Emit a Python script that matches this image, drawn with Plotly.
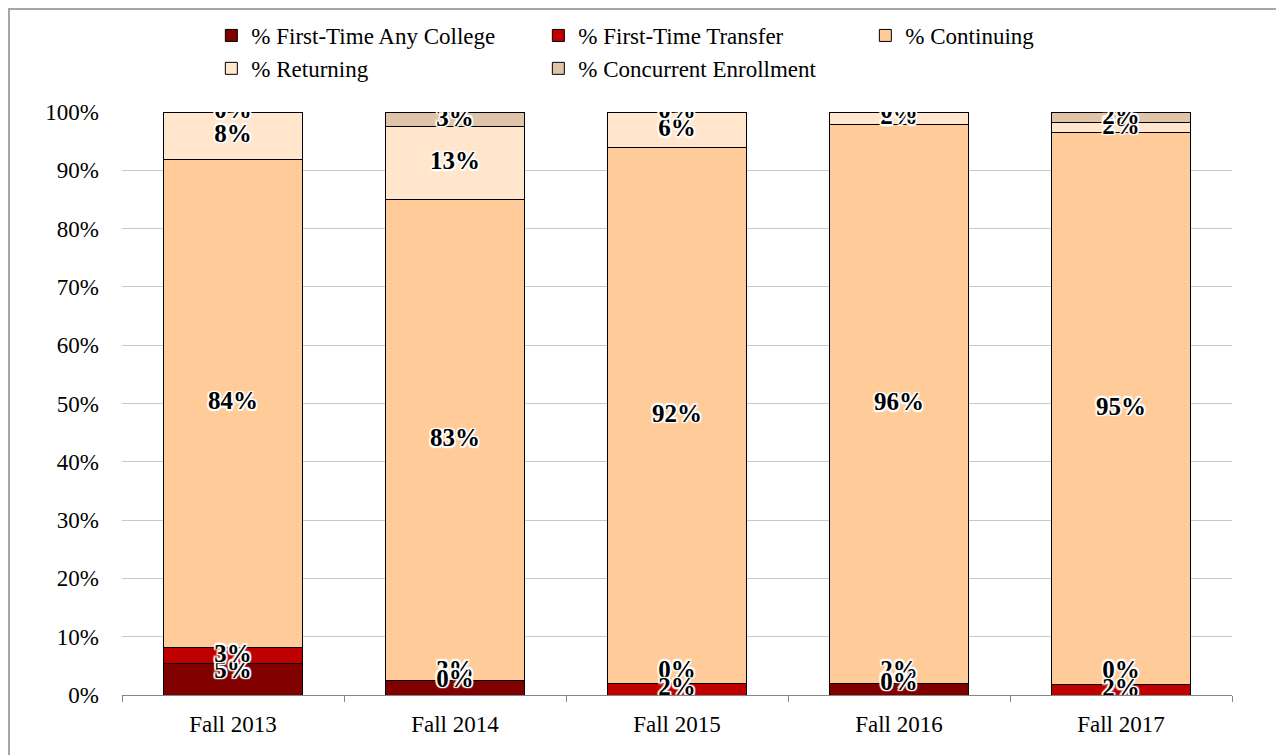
import plotly.graph_objects as go

categories = ["Fall 2013", "Fall 2014", "Fall 2015", "Fall 2016", "Fall 2017"]
series_names = ["% First-Time Any College", "% First-Time Transfer", "% Continuing",
                "% Returning", "% Concurrent Enrollment"]
first_time_any = [5.4, 2.5, 0.0, 2.0, 0.0]
first_time_transfer = [2.8, 0.0, 2.0, 0.0, 1.8]
continuing = [83.7, 82.5, 91.9, 95.9, 94.7]
returning = [8.1, 12.5, 6.1, 2.1, 1.7]
concurrent = [0.0, 2.5, 0.0, 0.0, 1.8]
colors = ["#800000", "#C00000", "#FFCC99", "#FFE6CC", "#DFC4A8"]
y_ticks = [0, 10, 20, 30, 40, 50, 60, 70, 80, 90, 100]
y_tick_text = [f"{v}%" for v in y_ticks]

series = [first_time_any, first_time_transfer, continuing, returning, concurrent]

FONT = "Liberation Serif, Times New Roman, serif"

# figure pixel geometry (page has an 8px body offset)
L, R, T, B = 114, 60, 104, 68
W, H = 1284, 755
PW, PH = W - L - R, H - T - B

fig = go.Figure()
for name, vals, col in zip(series_names, series, colors):
    fig.add_trace(go.Bar(
        x=categories, y=vals, name=name,
        marker=dict(color=col, line=dict(color="#000000", width=1)),
        hoverinfo="skip",
    ))

# data labels at the middle of each segment (bottom label kept clear of the axis)
lx, ly, lt = [], [], []
for i, cat in enumerate(categories):
    base = 0.0
    for k, vals in enumerate(series):
        v = vals[i]
        mid = base + v / 2
        if k == 0:
            mid = max(mid, 4.0)
        lx.append(cat)
        ly.append(mid)
        lt.append(f"{int(v + 0.5)}%")
        base += v

halo = ("-1.5px -1.5px 1px #fff, 1.5px -1.5px 1px #fff, -1.5px 1.5px 1px #fff, "
        "1.5px 1.5px 1px #fff, 0 -1.5px 1px #fff, 0 1.5px 1px #fff, "
        "-1.5px 0 1px #fff, 1.5px 0 1px #fff")
fig.add_trace(go.Scatter(
    x=lx, y=ly, text=lt, mode="text", showlegend=False, hoverinfo="skip",
    textfont=dict(family=FONT, size=25, color="#000000", weight="bold", shadow=halo),
    textposition="middle center",
))

fig.update_layout(
    width=W, height=H,
    margin=dict(l=L, r=R, t=T, b=B, autoexpand=False),
    barmode="stack", bargap=0.374,
    paper_bgcolor="#FFFFFF", plot_bgcolor="#FFFFFF",
    font=dict(family=FONT, size=23, color="#000000"),
    legend=dict(
        orientation="h", x=0.0805, y=1 + (T - 6) / PH, xanchor="left", yanchor="top",
        entrywidth=282, entrywidthmode="pixels",
        font=dict(family=FONT, size=23, color="#000000"),
        traceorder="normal", itemclick=False, itemdoubleclick=False,
        bgcolor="rgba(0,0,0,0)", tracegroupgap=0,
    ),
    xaxis=dict(
        showgrid=False, showline=True, linecolor="#868686", linewidth=1,
        ticks="outside", tickson="boundaries", ticklen=6, tickcolor="#868686",
        ticklabelstandoff=8,
    ),
    yaxis=dict(
        range=[0, 100], tickvals=y_ticks, ticktext=y_tick_text,
        showgrid=True, gridcolor="#C8C8C8", gridwidth=1,
        showline=False, zeroline=False, ticks="", ticklabelstandoff=22,
    ),
    shapes=[dict(
        type="rect", xref="paper", yref="paper",
        x0=(1 - L) / PW, x1=(W + 20 - L) / PW,
        y0=-(B + 20) / PH, y1=1 + (T - 1) / PH,
        line=dict(color="#A6A6A6", width=2), fillcolor="rgba(0,0,0,0)", layer="below",
    )],
)

fig.write_html("out.html")
